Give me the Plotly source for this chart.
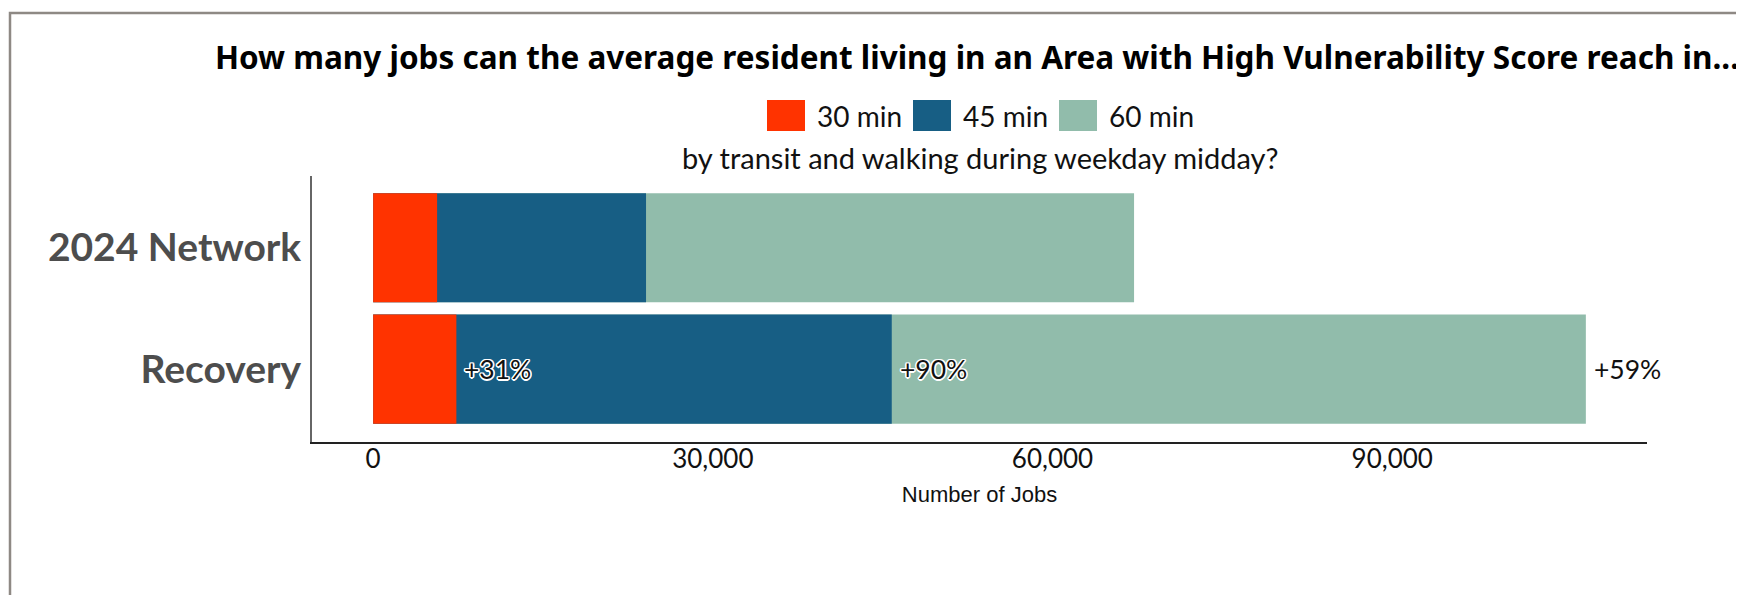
import plotly.graph_objects as go

# ---- data ----
categories = ["2024 Network", "Recovery"]
series_names = ["30 min", "45 min", "60 min"]
jobs_30 = [5650, 7350]
jobs_45 = [24100, 45800]
jobs_60 = [67200, 107100]
pct_labels = ["+31%", "+90%", "+59%"]
tick_vals = [0, 30000, 60000, 90000]
tick_text = ["0", "30,000", "60,000", "90,000"]
colors = ["#ff3300", "#175e84", "#91bcab"]

title_text = "How many jobs can the average resident living in an Area with High Vulnerability Score reach in..."
subtitle_text = "by transit and walking during weekday midday?"

FONT = "Lato, 'Noto Sans', sans-serif"
TITLE_FONT = "'Noto Sans', Lato, sans-serif"

# page offset (body margin) and figure size
OFF = 8
W, H = 1744 - OFF, 595 - OFF
# plot area in screen pixels
SL, SR, ST, SB = 312, 1647, 176, 442


def px(x):
    return (x - SL) / (SR - SL)


def py(y):
    return (SB - y) / (SB - ST)


fig = go.Figure()
series_vals = [jobs_30, jobs_45, jobs_60]
# draw longest first so shorter cumulative bars overlay them
for i in [2, 1, 0]:
    fig.add_trace(go.Bar(
        y=categories, x=series_vals[i], orientation="h", name=series_names[i],
        marker=dict(color=colors[i], line=dict(width=0)), width=0.898,
        showlegend=False, hoverinfo="x+name"))

annotations = []
outline = ("-1.2px -1.2px 0 #fff, 1.2px -1.2px 0 #fff, -1.2px 1.2px 0 #fff, "
           "1.2px 1.2px 0 #fff, 0 1.5px 0 #fff, 0 -1.5px 0 #fff, 1.5px 0 0 #fff, -1.5px 0 0 #fff")
for i, vals in enumerate(series_vals):
    annotations.append(dict(
        x=vals[1], y=categories[1], xref="x", yref="y", text=pct_labels[i],
        showarrow=False, xanchor="left", yanchor="middle", xshift=6, yshift=0,
        font=dict(family=FONT, size=26.5, color="#111",
                  shadow=outline if i < 2 else "none")))

# custom legend
leg_boxes = [(767, 805), (913, 951), (1059, 1097)]
shapes = []
for i, (x0, x1) in enumerate(leg_boxes):
    shapes.append(dict(type="rect", xref="paper", yref="paper",
                       x0=px(x0), x1=px(x1), y0=py(131), y1=py(100),
                       fillcolor=colors[i], line=dict(width=0)))
    annotations.append(dict(x=px(x1 + 10), y=py(116), xref="paper", yref="paper",
                            text=series_names[i], showarrow=False, xanchor="left",
                            yanchor="middle",
                            font=dict(family=FONT, size=28, color="#111")))

# subtitle
annotations.append(dict(x=px(980), y=py(157), xref="paper", yref="paper",
                        text=subtitle_text, showarrow=False, xanchor="center",
                        yanchor="middle", font=dict(family=FONT, size=29, color="#111")))

# outer frame
shapes.append(dict(type="rect", xref="paper", yref="paper",
                   x0=px(10), x1=px(1770), y0=py(640), y1=py(13),
                   line=dict(color="#8e8984", width=2.5), fillcolor="rgba(0,0,0,0)",
                   layer="below"))

fig.update_layout(
    width=W, height=H,
    margin=dict(l=SL - OFF, r=W - (SR - OFF), t=ST - OFF, b=H - (SB - OFF),
                autoexpand=False),
    paper_bgcolor="white", plot_bgcolor="white",
    barmode="overlay",
    showlegend=False,
    title=dict(text="<b>" + title_text + "</b>", x=px(977), xref="paper",
               xanchor="center", y=1 - (58 - OFF) / H, yref="container", yanchor="middle",
               font=dict(family=TITLE_FONT, size=31.5, color="#000")),
    xaxis=dict(range=[-5400, 112500], tickvals=tick_vals, ticktext=tick_text,
               showgrid=False, zeroline=False, showline=True, linecolor="#222",
               linewidth=2, ticks="", ticklabelstandoff=-7,
               tickfont=dict(family=FONT, size=26, color="#111"),
               title=dict(text="Number of Jobs", standoff=13,
                          font=dict(family="'Liberation Sans', Arial, sans-serif",
                                    size=22, color="#111"))),
    yaxis=dict(type="category", categoryorder="array", categoryarray=categories,
               range=[1.6, -0.59], showgrid=False, zeroline=False, showline=True,
               linecolor="#666", linewidth=2, ticks="", ticklabelstandoff=1,
               tickfont=dict(family=FONT, size=39, color="#4d4d4d", weight=700)),
    annotations=annotations,
    shapes=shapes,
)

fig.write_html("out.html")
